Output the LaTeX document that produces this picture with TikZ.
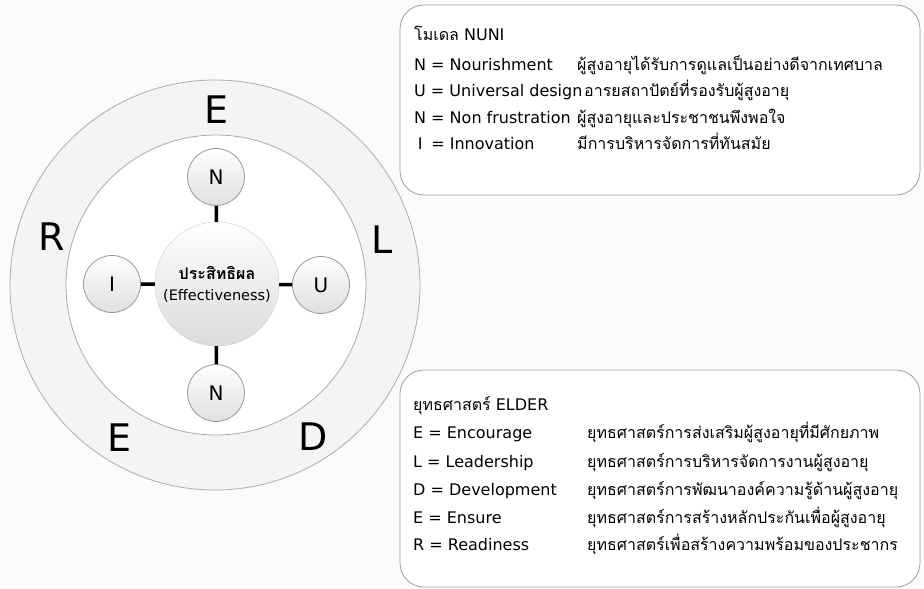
\documentclass[tikz,border=0pt]{standalone}
\usepackage{fontspec}
\setmainfont{DejaVu Sans}
\newfontfamily\thaifont[Script=Thai]{Loma}
\usepackage{tikz}

\begin{document}
\begin{tikzpicture}[x=1pt, y=-1pt,
    ball/.style={draw=gray!80, circle, thick, minimum size=57pt, inner sep=0pt,
        top color=white, bottom color=gray!25, font=\fontsize{20}{24}\selectfont},
    big/.style={font=\fontsize{38}{40}\selectfont, inner sep=0pt},
    line/.style={anchor=base west, inner sep=0pt, font=\fontsize{16}{19}\selectfont},
    thline/.style={anchor=base west, inner sep=0pt, font=\thaifont\fontsize{16}{19}\selectfont},
    card/.style={draw=gray!75, thick, rounded corners=24pt, fill=white}]
    \useasboundingbox[fill=gray!3] (0, 0) rectangle (924, 589);

    % rings
    \draw[fill=gray!9, draw=gray!65, thick] (215, 285) circle (205);
    \draw[fill=white, draw=gray!65, thick] (216, 285) circle (150);

    \node[big] (e1) at (217, 110) {E};
    \node[big] (l1) at (382, 240) {L};
    \node[big] (d1) at (313, 437) {D};
    \node[big] (e2) at (120, 438) {E};
    \node[big] (r1) at (52, 237)  {R};

    \node[circle, draw=gray!40, minimum size=124pt, inner sep=0pt,
        top color=white, bottom color=gray!28, align=center] (eff) at (217, 284)
        {{\thaifont\bfseries\fontsize{16}{20}\selectfont ประสิทธิผล}\\[9pt]
         {\fontsize{14.5}{18}\selectfont (Effectiveness)}};
    \node[ball] (nTop)   at (216, 177) {N};
    \node[ball] (uRight) at (321, 285) {U};
    \node[ball] (nBot)   at (216, 393) {N};
    \node[ball] (iLeft)  at (112, 284) {I};
    \draw[line width=3.5pt]
        (nTop) -- (eff)
        (uRight) -- (eff)
        (nBot) -- (eff)
        (iLeft) -- (eff);

    % NUNI box
    \draw[card] (400, 5) rectangle (920, 195);
    \node[line] (nuni) at (414, 40) {{\thaifont\fontsize{16}{19}\selectfont โมเดล} NUNI};
    \node[line] (n1) at (414, 70)  {N = Nourishment};
    \node[line] (u1) at (414, 96.5) {U = Universal design};
    \node[line] (n2) at (414, 123) {N = Non frustration};
    \node[line] (i1) at (414, 149) {\makebox[12pt]{I} = Innovation};
    \node[thline] (n1t) at (577, 70)  {ผู้สูงอายุได้รับการดูแลเป็นอย่างดีจากเทศบาล};
    \node[thline] (u1t) at (584, 96.5) {อารยสถาปัตย์ที่รองรับผู้สูงอายุ};
    \node[thline] (n2t) at (577, 123) {ผู้สูงอายุและประชาชนพึงพอใจ};
    \node[thline] (i1t) at (577, 149) {มีการบริหารจัดการที่ทันสมัย};

    % ELDER box
    \draw[card] (400, 370) rectangle (920, 587);
    \node[line] (elder) at (413, 410) {{\thaifont\fontsize{16}{19}\selectfont ยุทธศาสตร์} ELDER};
    \node[line] (e3) at (413, 438) {E = Encourage};
    \node[line] (l2) at (413, 467) {L = Leadership};
    \node[line] (d2) at (413, 495) {D = Development};
    \node[line] (e4) at (413, 523) {E = Ensure};
    \node[line] (r2) at (413, 550) {R = Readiness};
    \node[thline] (e3t) at (587, 438) {ยุทธศาสตร์การส่งเสริมผู้สูงอายุที่มีศักยภาพ};
    \node[thline] (l2t) at (587, 467) {ยุทธศาสตร์การบริหารจัดการงานผู้สูงอายุ};
    \node[thline] (d2t) at (587, 495) {ยุทธศาสตร์การพัฒนาองค์ความรู้ด้านผู้สูงอายุ};
    \node[thline] (e4t) at (587, 523) {ยุทธศาสตร์การสร้างหลักประกันเพื่อผู้สูงอายุ};
    \node[thline] (r2t) at (587, 550) {ยุทธศาสตร์เพื่อสร้างความพร้อมของประชากร};
\end{tikzpicture}
\end{document}
